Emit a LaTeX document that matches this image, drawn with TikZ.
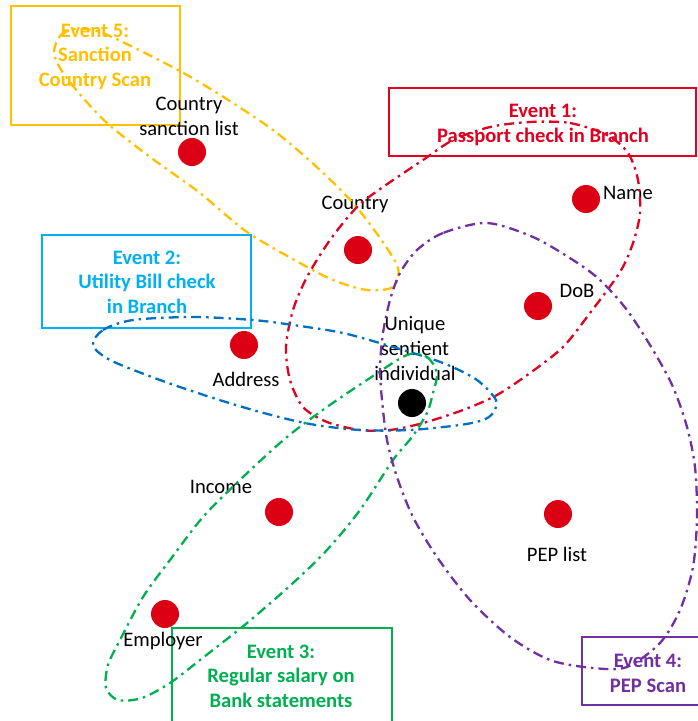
\documentclass[tikz,border=0pt]{standalone}
\usepackage{fontspec}
\setmainfont{Carlito}
\definecolor{dotred}{RGB}{220,0,20}
\definecolor{evred}{RGB}{224,0,32}
\definecolor{evorange}{RGB}{255,192,0}
\definecolor{evcyan}{RGB}{0,176,240}
\definecolor{evblue}{RGB}{0,112,192}
\definecolor{evgreen}{RGB}{0,176,80}
\definecolor{evpurple}{RGB}{112,48,160}
\begin{document}
\begin{tikzpicture}[x=1pt,y=-1pt,
  dot/.style={circle, fill=dotred, minimum size=28pt, inner sep=0pt},
  lbl/.style={font=\fontsize{20.6}{25}\selectfont, align=center, anchor=base, inner sep=0pt},
  evtxt/.style={font=\bfseries\fontsize{20.6}{24.5}\selectfont, align=center, anchor=base, inner sep=0pt},
  evbox/.style={draw, line width=1.5pt, inner sep=0pt},
  grouploop/.style={line width=2.3pt, dash pattern=on 10pt off 5pt on 2.5pt off 5pt}]
\clip (0,0) rectangle (698,721);

% event boxes
\node[evbox, evorange, minimum width=169pt, minimum height=119pt] (b5) at (95.5,65.5) {};
\node[evbox, evred,    minimum width=307pt, minimum height=68pt]  (b1) at (542.5,122) {};
\node[evbox, evcyan,   minimum width=209pt, minimum height=93pt]  (b2) at (146.5,281.5) {};
\node[evbox, evgreen,  minimum width=220pt, minimum height=96pt]  (b3) at (282,676) {};
\node[evbox, evpurple, minimum width=132pt, minimum height=68pt]  (b4) at (648,671) {};

% event titles (anchored at the baseline of the last line)
\node[evtxt, text=evorange] (t5) at (95,86)  {Event 5:\\Sanction\\Country Scan};
\node[evtxt, text=evred]    (t1) at (543,142) {Event 1:\\Passport check in Branch};
\node[evtxt, text=evcyan]   (t2) at (147,313) {Event 2:\\Utility Bill check\\in Branch};
\node[evtxt, text=evgreen]  (t3) at (281,707) {Event 3:\\Regular salary on\\Bank statements};
\node[evtxt, text=evpurple] (t4) at (648,692) {Event 4:\\PEP Scan};

% attributes
\node[dot] (csl) at (192,152) {};
\node[dot] (cty) at (358,250) {};
\node[dot] (nam) at (586,199) {};
\node[dot] (dob) at (538,306) {};
\node[dot] (adr) at (244,345) {};
\node[dot] (inc) at (279,512) {};
\node[dot] (emp) at (165,614) {};
\node[dot] (pep) at (558,514) {};
\node[circle, fill=black, minimum size=28pt, inner sep=0pt] (usi) at (412,403) {};

\node[lbl] (lcsl) at (189,135) {Country\\sanction list};
\node[lbl] (lcty) at (355,209) {Country};
\node[lbl] (lnam) at (628,199) {Name};
\node[lbl] (ldob) at (577,297) {DoB};
\node[lbl] (lusi) at (415,380) {Unique\\sentient\\individual};
\node[lbl] (ladr) at (246,386) {Address};
\node[lbl] (linc) at (221,493) {Income};
\node[lbl] (lemp) at (163,646) {Employer};
\node[lbl] (lpep) at (557,561) {PEP list};

% event groupings
\draw[grouploop, evorange] plot[smooth cycle] coordinates {
  (54,52) (60,36) (75,29) (100,32) (143,52) (187,75) (233,103) (277,133)
  (320,170) (353,203) (380,238) (398,268) (393,287) (367,290) (333,280)
  (300,263) (247,232) (200,193) (150,157) (107,123) (78,92) (60,68)};
\draw[grouploop, evred] plot[smooth cycle] coordinates {
  (530,122) (570,123) (607,135) (628,153) (638,180) (640,213) (633,243)
  (620,272) (590,313) (563,347) (530,373) (497,395) (463,410) (423,423)
  (390,430) (360,430) (327,422) (303,407) (290,380) (286,347) (293,310)
  (307,277) (330,240) (357,207) (383,187) (423,160) (453,140) (490,127)};
\draw[grouploop, evblue] plot[smooth cycle] coordinates {
  (93,345) (103,330) (133,320) (193,317) (253,320) (293,325) (343,333)
  (393,347) (443,363) (477,380) (496,400) (493,413) (483,420) (460,425)
  (410,430) (360,430) (310,424) (260,412) (210,397) (160,380) (110,360)};
\draw[grouploop, evgreen] plot[smooth cycle] coordinates {
  (407,355) (427,357) (437,373) (433,393) (427,413) (412,437) (393,460)
  (360,510) (327,550) (293,583) (247,623) (200,660) (170,683) (142,698)
  (118,700) (106,688) (108,665) (120,640) (143,597) (170,560) (203,517)
  (243,477) (287,437) (327,407) (367,380)};
\draw[grouploop, evpurple] plot[smooth cycle] coordinates {
  (487,223) (443,233) (417,250) (400,273) (390,300) (383,333) (380,367)
  (382,400) (387,440) (397,477) (413,517) (437,557) (470,600) (510,637)
  (550,660) (593,668) (627,667) (660,643) (680,610) (693,567) (697,517)
  (695,467) (687,427) (673,387) (653,350) (627,310) (600,280) (573,260)
  (533,237)};
\end{tikzpicture}
\end{document}
